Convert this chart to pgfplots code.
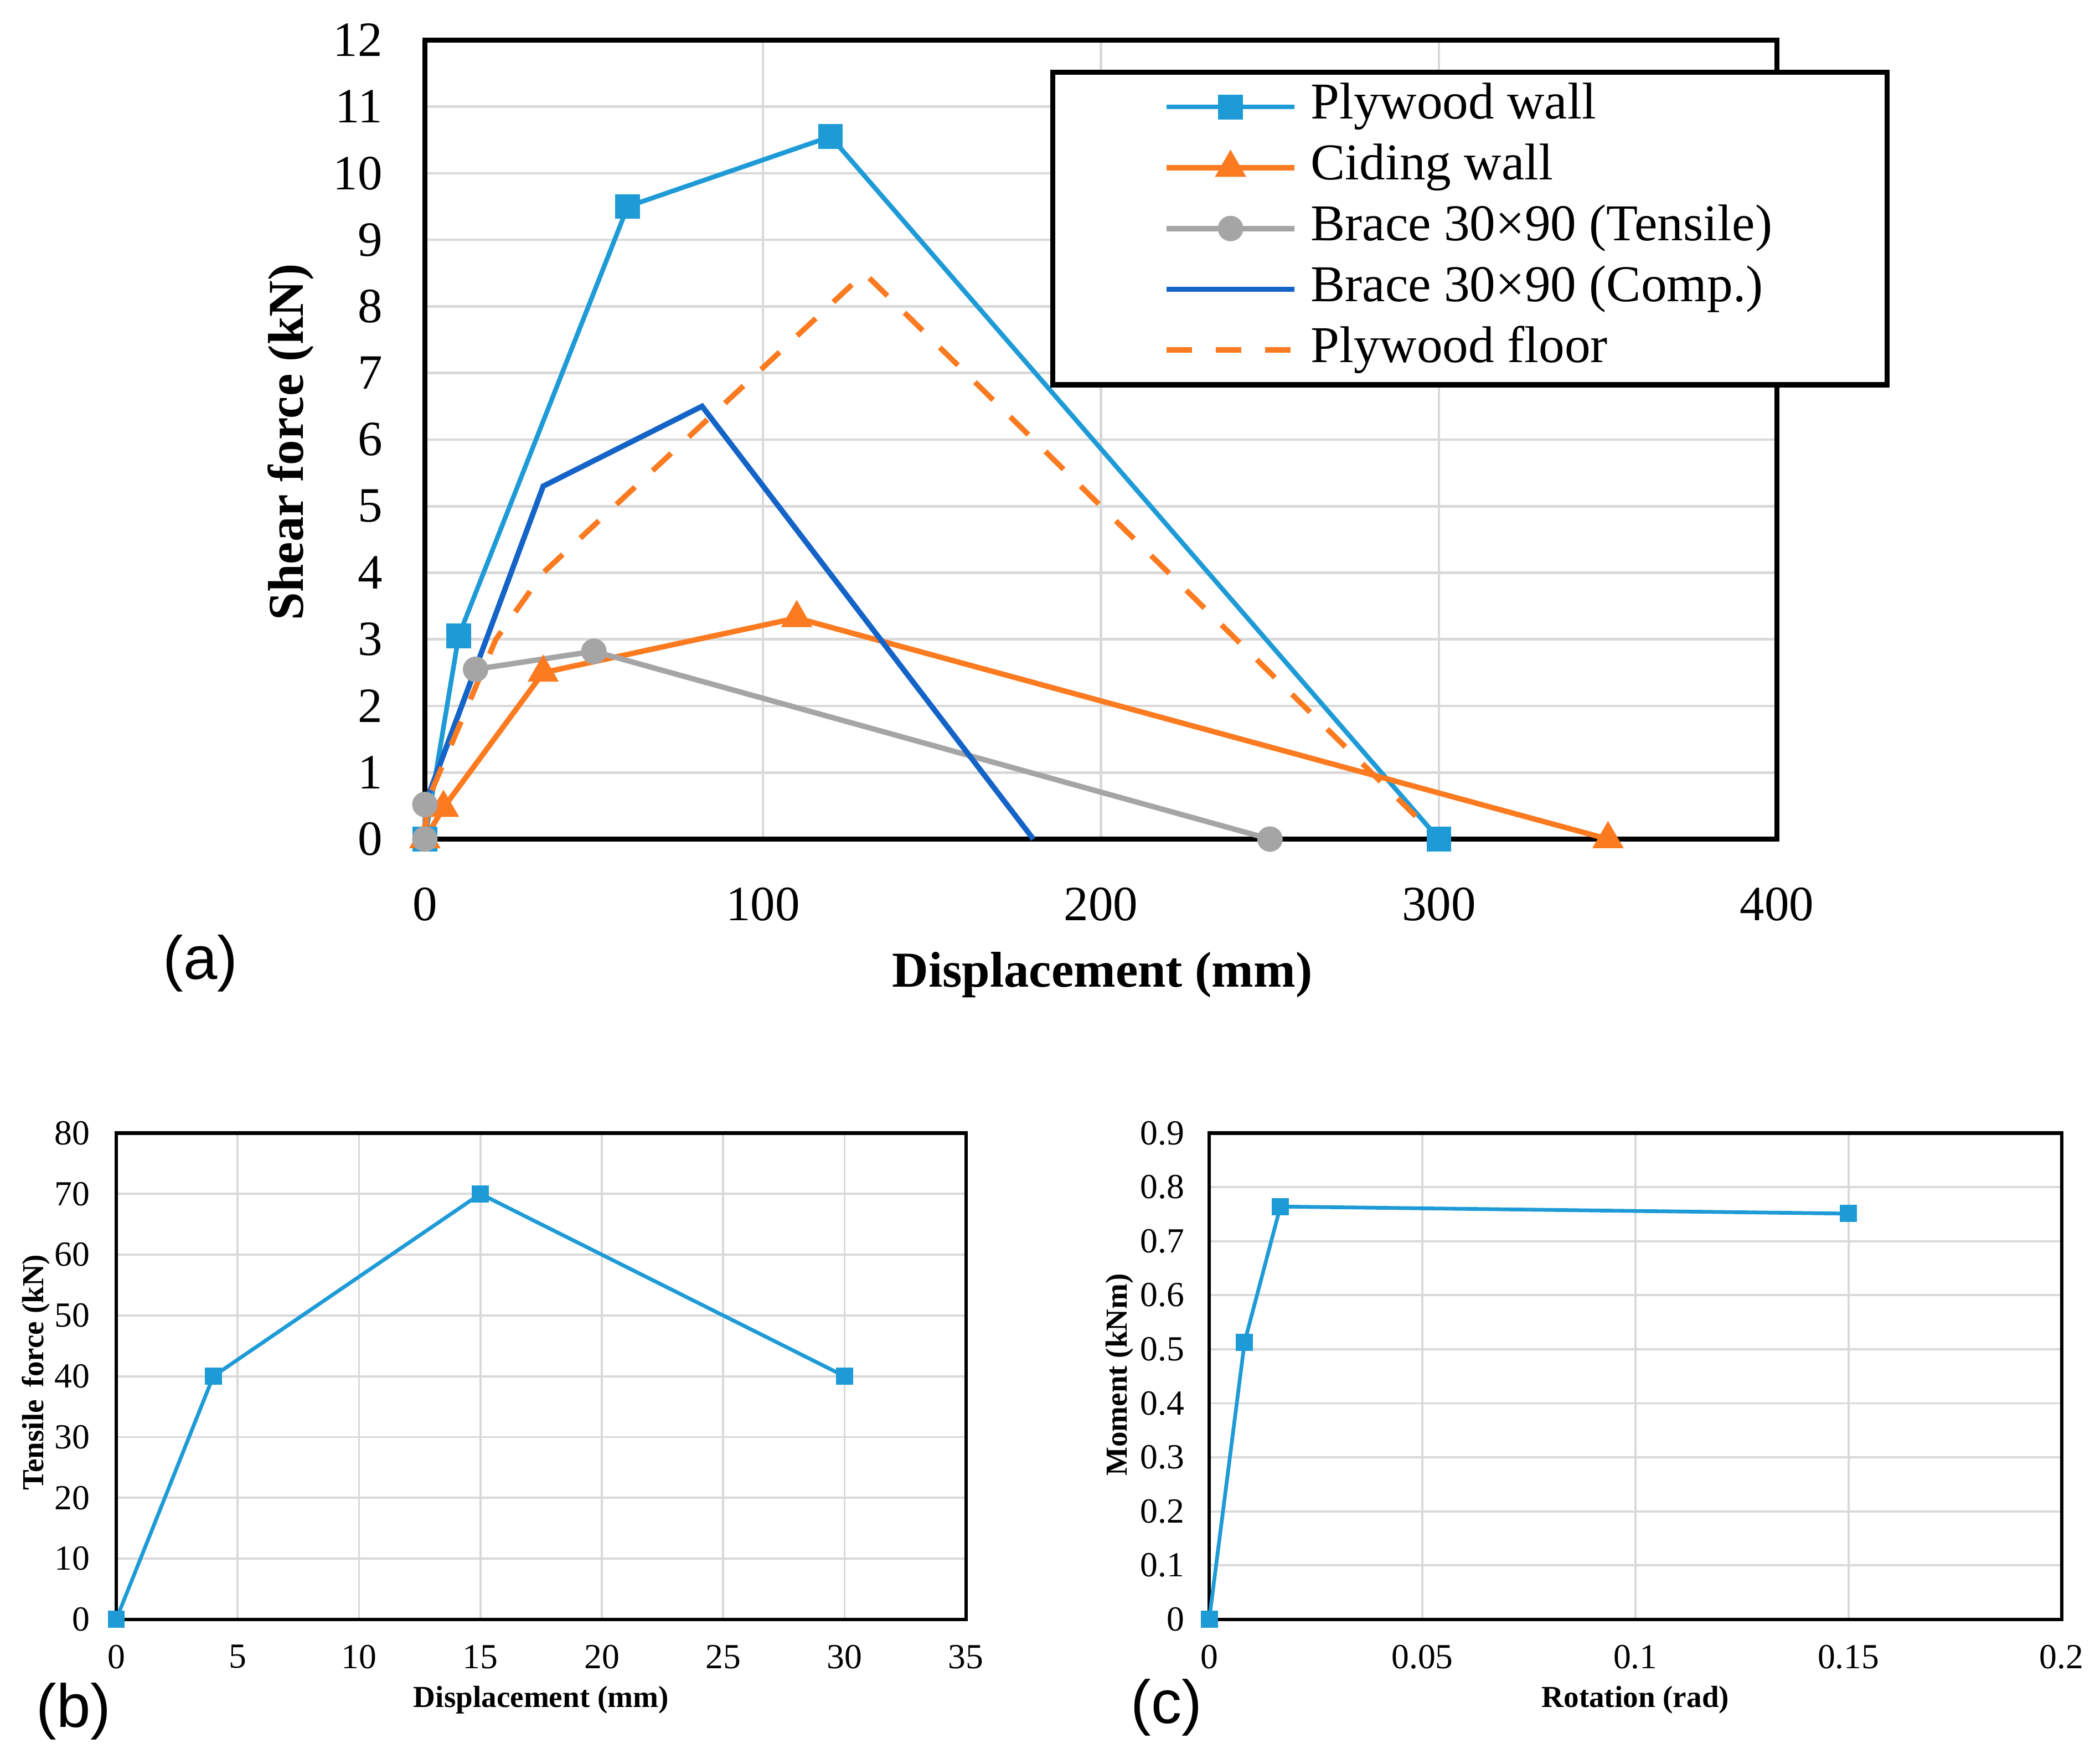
\documentclass[border=0pt]{standalone}
\usepackage{fontspec}
\setmainfont{Liberation Serif}
\newfontfamily\arialfont{Liberation Sans}
\usepackage{pgfplots}
\pgfplotsset{compat=1.18}
\definecolor{cPly}{RGB}{30,155,215}
\definecolor{cOr}{RGB}{252,122,32}
\definecolor{cGr}{RGB}{165,165,165}
\definecolor{cDb}{RGB}{20,100,200}
\definecolor{cGrid}{RGB}{217,217,217}
\pgfplotsset{
  excel/.style={scale only axis, anchor=south west,
    axis line style={black, line width=1pt},
    major tick length=0pt, grid=major,
    major grid style={cGrid, line width=0.55pt},
    /pgf/number format/assume math mode=true,
    clip=false, enlargelimits=false},
}
\begin{document}
\begin{tikzpicture}
\useasboundingbox (0,0) rectangle (156.8mm,132mm);
\fill[white] (0,0) rectangle (156.8mm,132mm);

% ---------------- panel (a)
\begin{axis}[excel, at={(31.8mm,69.2mm)}, width=101.2mm, height=59.8mm,
  xmin=0, xmax=400, ymin=0, ymax=12,
  xtick={0,100,200,300,400}, ytick={0,1,...,12},
  ticklabel style={font=\fontsize{10.5}{12}\selectfont, inner sep=0pt},
  xticklabel style={anchor=center, yshift=-4.9mm},
  yticklabel style={anchor=east, xshift=-3.1mm},
  xlabel={Displacement (mm)}, ylabel={Shear force (kN)},
  label style={font=\fontsize{10.7}{12}\selectfont\bfseries},
  xlabel style={at={(axis description cs:0.501,-0.17)}, anchor=center},
  ylabel style={at={(axis description cs:-0.099,0.497)}, anchor=center},
  legend style={at={(axis description cs:0.4625,0.963)}, anchor=north west,
    draw=black, line width=1.1pt, fill=white, inner xsep=8.3mm, inner ysep=0.4mm,
    font=\fontsize{11}{13}\selectfont,
    nodes={inner sep=0.3mm, text height=2.8mm, text depth=1mm},
    row sep=0.15mm,
    /tikz/every odd column/.append style={column sep=0.7mm}},
  legend cell align=left,
  legend image code/.code={\draw[mark repeat=2,mark phase=2,#1] plot coordinates {(0mm,0mm) (4.8mm,0mm) (9.6mm,0mm)};},
]
\addplot[cPly, line width=1.0pt, mark=square*, mark size=0.75mm, mark options={fill=cPly, draw=cPly}]
  coordinates {(0,0) (10,3.05) (60,9.5) (120,10.55) (300,0)};
\addlegendentry{Plywood wall}
\addplot[cOr, line width=1.15pt, mark=triangle*, mark size=0.95mm, mark options={fill=cOr, draw=cOr}]
  coordinates {(0,0) (5.5,0.47) (35,2.5) (110,3.32) (350,0)};
\addlegendentry{Ciding wall}
\addplot[cGr, line width=1.15pt, mark=*, mark size=0.75mm, mark options={fill=cGr, draw=cGr}]
  coordinates {(0,0) (0,0.52) (15,2.55) (50,2.82) (250,0)};
\addlegendentry{Brace 30\texttimes90 (Tensile)}
\addplot[cDb, line width=1.15pt]
  coordinates {(0,0) (1,0.65) (35,5.3) (82,6.5) (180,0)};
\addlegendentry{Brace 30\texttimes90 (Comp.)}
\addplot[cOr, line width=1.15pt, dash pattern=on 1.9mm off 1.8mm]
  coordinates {(0,0) (1,0.6) (21,3.0) (35,4.0) (130,8.5) (300,0)};
\addlegendentry{Plywood floor}
\end{axis}

% ---------------- panel (b)
\begin{axis}[excel, at={(8.7mm,10.8mm)}, width=63.6mm, height=36.4mm,
  axis line style={black, line width=0.75pt},
  major grid style={cGrid, line width=0.45pt},
  xmin=0, xmax=35, ymin=0, ymax=80,
  xtick={0,5,...,35}, ytick={0,10,...,80},
  ticklabel style={font=\fontsize{7.5}{9}\selectfont, inner sep=0pt},
  xticklabel style={anchor=center, yshift=-2.8mm},
  yticklabel style={anchor=east, xshift=-1.9mm},
  xlabel={Displacement (mm)}, ylabel={Tensile\, force (kN)},
  label style={font=\fontsize{6.5}{8}\selectfont\bfseries},
  xlabel style={at={(axis description cs:0.5,-0.165)}, anchor=center},
  ylabel style={at={(axis description cs:-0.0943,0.508)}, anchor=center},
]
\addplot[cPly, line width=0.8pt, mark=square*, mark size=0.5mm, mark options={fill=cPly, draw=cPly}]
  coordinates {(0,0) (4,40) (15,70) (30,40)};
\end{axis}

% ---------------- panel (c)
\begin{axis}[excel, at={(90.5mm,10.8mm)}, width=63.8mm, height=36.4mm,
  axis line style={black, line width=0.75pt},
  major grid style={cGrid, line width=0.45pt},
  xmin=0, xmax=0.2, ymin=0, ymax=0.9,
  xtick={0,0.05,0.1,0.15,0.2}, xticklabels={0,0.05,0.1,0.15,0.2},
  ytick={0,0.1,0.2,0.3,0.4,0.5,0.6,0.7,0.8,0.9},
  yticklabels={0,0.1,0.2,0.3,0.4,0.5,0.6,0.7,0.8,0.9},
  ticklabel style={font=\fontsize{7.5}{9}\selectfont, inner sep=0pt},
  xticklabel style={anchor=center, yshift=-2.8mm},
  yticklabel style={anchor=east, xshift=-1.8mm},
  xlabel={Rotation (rad)}, ylabel={Moment (kNm)},
  label style={font=\fontsize{6.5}{8}\selectfont\bfseries},
  xlabel style={at={(axis description cs:0.5,-0.165)}, anchor=center},
  ylabel style={at={(axis description cs:-0.105,0.503)}, anchor=center},
]
\addplot[cPly, line width=0.8pt, mark=square*, mark size=0.5mm, mark options={fill=cPly, draw=cPly}]
  coordinates {(0,0) (0.0083,0.513) (0.0167,0.764) (0.15,0.751)};
\end{axis}

\node[font=\arialfont\fontsize{13}{15}\selectfont] at (15.0mm,59.9mm) {(a)};
\node[font=\arialfont\fontsize{13}{15}\selectfont] at (5.5mm,3.9mm) {(b)};
\node[font=\arialfont\fontsize{13}{15}\selectfont] at (87.3mm,4.2mm) {(c)};
\end{tikzpicture}
\end{document}
